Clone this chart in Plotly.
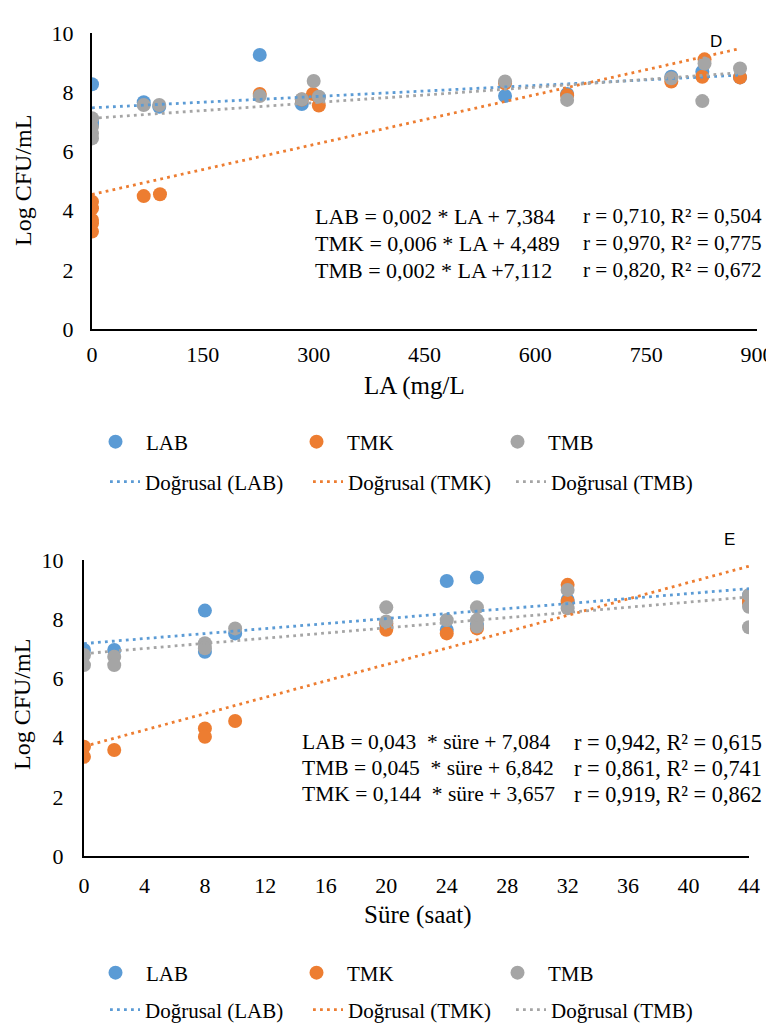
import numpy as np
import plotly.graph_objects as go

# The page body adds an 8px margin; design in page pixels and offset.
PAGE_W, PAGE_H = 774, 1027
OFF = 8
W, H = PAGE_W - OFF, PAGE_H - OFF

# ---------------- Data: chart D (LA mg/L) ----------------
d_lab_x = [0, 0, 0, 0, 70, 91, 227, 284, 307, 559, 643, 784, 826, 877]
d_lab_y = [8.27, 7.00, 6.95, 6.90, 7.66, 7.51, 9.26, 7.60, 7.83, 7.87, 7.94, 8.52, 8.69, 8.50]
d_tmk_x = [0, 0, 0, 0, 0, 70, 92, 227, 284, 299, 307, 559, 643, 784, 826, 829, 877]
d_tmk_y = [4.30, 4.08, 3.68, 3.57, 3.29, 4.49, 4.55, 7.94, 7.75, 7.94, 7.55, 8.30, 7.90, 8.36, 8.52, 9.11, 8.50]
d_tmb_x = [0, 0, 0, 0, 70, 91, 227, 284, 300, 307, 559, 643, 784, 826, 829, 877]
d_tmb_y = [7.12, 6.83, 6.61, 6.44, 7.57, 7.57, 7.87, 7.76, 8.38, 7.85, 8.36, 7.74, 8.47, 7.70, 8.97, 8.80]

# ---------------- Data: chart E (Süre, saat) ----------------
e_lab_x = [0, 2, 8, 8, 10, 20, 24, 24, 26, 26, 32, 44, 44]
e_lab_y = [6.96, 6.96, 8.29, 6.90, 7.52, 7.80, 9.29, 7.64, 9.41, 7.80, 8.65, 8.59, 8.80]
e_tmk_x = [0, 0, 2, 8, 8, 10, 20, 20, 24, 26, 32, 32, 44, 44]
e_tmk_y = [3.69, 3.35, 3.58, 4.31, 4.03, 4.56, 7.86, 7.64, 7.52, 7.69, 9.16, 8.59, 8.65, 8.55]
e_tmb_x = [0, 0, 2, 2, 8, 8, 10, 20, 20, 24, 26, 26, 26, 32, 32, 44, 44, 44]
e_tmb_y = [6.79, 6.45, 6.73, 6.45, 7.19, 7.02, 7.69, 8.40, 7.92, 7.97, 8.40, 7.97, 7.75, 8.99, 8.37, 8.82, 8.42, 7.73]

series_names = ["LAB", "TMK", "TMB"]
trend_names = ["Doğrusal (LAB)", "Doğrusal (TMK)", "Doğrusal (TMB)"]
colors = ["#5B9BD5", "#ED7D31", "#A5A5A5"]

d_eq = [("LAB = 0,002 * LA + 7,384", "r = 0,710, R² = 0,504"),
        ("TMK = 0,006 * LA + 4,489", "r = 0,970, R² = 0,775"),
        ("TMB = 0,002 * LA +7,112", "r = 0,820, R² = 0,672")]
e_eq = [("LAB = 0,043  * süre + 7,084", "r = 0,942, R² = 0,615"),
        ("TMB = 0,045  * süre + 6,842", "r = 0,861, R² = 0,741"),
        ("TMK = 0,144  * süre + 3,657", "r = 0,919, R² = 0,862")]

d_xticks = [0, 150, 300, 450, 600, 750, 900]
e_xticks = [0, 4, 8, 12, 16, 20, 24, 28, 32, 36, 40, 44]
yticks = [0, 2, 4, 6, 8, 10]

SERIF = "Liberation Serif"


def px(x):
    return (x - OFF) / W


def py(y):
    return 1 - (y - OFF) / H


fig = go.Figure()


def add_panel(xs, ys, xa, ya, leg_m, leg_l):
    for i in range(3):
        x = np.array(xs[i], dtype=float)
        y = np.array(ys[i], dtype=float)
        fig.add_trace(go.Scatter(x=x, y=y, mode="markers", name=series_names[i],
                                 marker=dict(color=colors[i], size=14, line=dict(width=0)),
                                 xaxis=xa, yaxis=ya, legend=leg_m, hoverinfo="skip"))
    for i in range(3):
        x = np.array(xs[i], dtype=float)
        y = np.array(ys[i], dtype=float)
        k, b = np.polyfit(x, y, 1)
        xl = np.array([x.min(), x.max()])
        fig.add_trace(go.Scatter(x=xl, y=k * xl + b, mode="lines", name=trend_names[i],
                                 line=dict(color=colors[i], width=2.8, dash="2.8px,4.2px"),
                                 xaxis=xa, yaxis=ya, legend=leg_l, hoverinfo="skip"))


add_panel([d_lab_x, d_tmk_x, d_tmb_x], [d_lab_y, d_tmk_y, d_tmb_y], "x", "y", "legend", "legend2")
add_panel([e_lab_x, e_tmk_x, e_tmb_x], [e_lab_y, e_tmk_y, e_tmb_y], "x2", "y2", "legend3", "legend4")

tickfont = dict(family=SERIF, size=22, color="black")
axcommon = dict(showgrid=False, zeroline=False, showline=True, linecolor="black", linewidth=2,
                ticks="", tickfont=tickfont, fixedrange=True, automargin=False)

fig.update_layout(
    width=W, height=H,
    margin=dict(l=0, r=0, t=0, b=0, pad=0, autoexpand=False),
    paper_bgcolor="white", plot_bgcolor="rgba(0,0,0,0)",
    xaxis=dict(domain=[px(92), px(757)], range=[0, 900], tickvals=d_xticks,
               anchor="y", ticklabelstandoff=5, **axcommon),
    yaxis=dict(domain=[py(329), py(33)], range=[0, 10], tickvals=yticks,
               anchor="x", ticklabelstandoff=12, **axcommon),
    xaxis2=dict(domain=[px(84), px(749)], range=[0, 44], tickvals=e_xticks,
                anchor="y2", ticklabelstandoff=9, **axcommon),
    yaxis2=dict(domain=[py(856), py(560)], range=[0, 10], tickvals=yticks,
                anchor="x2", ticklabelstandoff=14, **axcommon),
    showlegend=True,
)

legfont = dict(family=SERIF, size=21, color="black")
legbase = dict(orientation="h", xanchor="left", yanchor="middle", font=legfont,
               bgcolor="rgba(0,0,0,0)", itemclick=False,
               itemdoubleclick=False, entrywidthmode="pixels", tracegroupgap=0)
fig.update_layout(
    legend=dict(x=px(85), y=py(442), entrywidth=135, itemwidth=51, itemsizing="trace", **legbase),
    legend2=dict(x=px(105), y=py(482), entrywidth=158, **legbase),
    legend3=dict(x=px(85), y=py(973), entrywidth=135, itemwidth=51, itemsizing="trace", **legbase),
    legend4=dict(x=px(105), y=py(1010), entrywidth=158, **legbase),
)

ann = []
font_d = dict(family=SERIF, size=22, color="black")
font_dr = dict(family=SERIF, size=21.2, color="black")
font_eb = dict(family=SERIF, size=21.5, color="black")
font_er = dict(family=SERIF, size=22.3, color="black")
for j, (a, b) in enumerate(d_eq):
    yy = 216 + j * 27
    ann.append(dict(x=px(313), y=py(yy), text=a, showarrow=False, xref="paper", yref="paper",
                    xanchor="left", yanchor="middle", font=font_d))
    ann.append(dict(x=px(581), y=py(yy), text=b, showarrow=False, xref="paper", yref="paper",
                    xanchor="left", yanchor="middle", font=font_dr))
for j, (a, b) in enumerate(e_eq):
    yy = 742 + j * 26
    ann.append(dict(x=px(300), y=py(yy), text=a, showarrow=False, xref="paper", yref="paper",
                    xanchor="left", yanchor="middle", font=font_eb))
    ann.append(dict(x=px(572), y=py(yy), text=b, showarrow=False, xref="paper", yref="paper",
                    xanchor="left", yanchor="middle", font=font_er))

titlefont = dict(family=SERIF, size=25, color="black")
ytitlefont = dict(family=SERIF, size=24, color="black")
ann += [
    dict(x=px(23), y=py(181), text="Log CFU/mL", textangle=-90, showarrow=False,
         xref="paper", yref="paper", xanchor="center", yanchor="middle", font=ytitlefont),
    dict(x=px(22), y=py(705), text="Log CFU/mL", textangle=-90, showarrow=False,
         xref="paper", yref="paper", xanchor="center", yanchor="middle", font=ytitlefont),
    dict(x=px(414), y=py(386), text="LA (mg/L", showarrow=False,
         xref="paper", yref="paper", xanchor="center", yanchor="middle", font=titlefont),
    dict(x=px(418), y=py(915), text="Süre (saat)", showarrow=False,
         xref="paper", yref="paper", xanchor="center", yanchor="middle", font=titlefont),
    dict(x=px(716), y=py(42), text="D", showarrow=False, xref="paper", yref="paper",
         xanchor="center", yanchor="middle",
         font=dict(family="Liberation Sans", size=17, color="black")),
    dict(x=px(729), y=py(539), text="E", showarrow=False, xref="paper", yref="paper",
         xanchor="center", yanchor="middle",
         font=dict(family="Liberation Sans", size=17, color="black")),
]
fig.update_layout(annotations=ann)

fig.write_html("out.html")
